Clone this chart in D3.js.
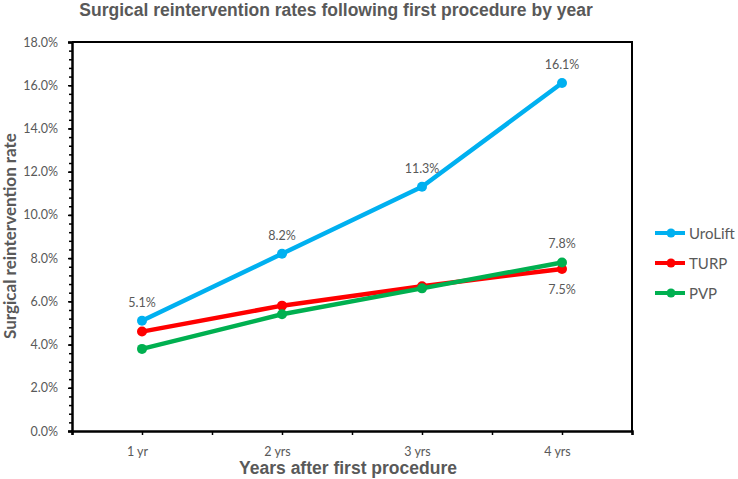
<!DOCTYPE html>
<html>
<head>
<meta charset="utf-8">
<script src="https://cdn.jsdelivr.net/npm/d3@7"></script>
<style>
  html, body { margin: 0; padding: 0; background: #fff; }
  svg { display: block; }
</style>
</head>
<body>
<svg id="chart" width="738" height="479"></svg>
<script>
// ---- data ----
const categories = [1, 2, 3, 4];
const categoryLabels = ["1 yr", "2 yrs", "3 yrs", "4 yrs"];
const seriesNames = ["UroLift", "TURP", "PVP"];
const uroliftValues = [5.1, 8.2, 11.3, 16.1];
const turpValues = [4.6, 5.8, 6.7, 7.5];
const pvpValues = [3.8, 5.4, 6.6, 7.8];
const seriesColors = ["#00B0F0", "#FF0000", "#00B050"];
const yTickValues = [0, 2, 4, 6, 8, 10, 12, 14, 16, 18];
// data labels shown in the reference: [series index, point index, position]
const dataLabels = [
  [0, 0, "above"], [0, 1, "above"], [0, 2, "above"], [0, 3, "above"],
  [2, 3, "above"], [1, 3, "below"]
];
const titleText = "Surgical reintervention rates following first procedure by year";
const xTitle = "Years after first procedure";
const yTitle = "Surgical reintervention rate";

const series = [uroliftValues, turpValues, pvpValues].map((vals, i) => ({
  name: seriesNames[i], color: seriesColors[i],
  points: vals.map((v, j) => ({ x: categories[j], y: v }))
}));

// ---- layout ----
const svg = d3.select("#chart");
const mLeft = 72, mRight = 632, mTop = 42, mBottom = 431;
const x = d3.scaleLinear().domain([0.5, 4.5]).range([mLeft, mRight]);
const y = d3.scaleLinear().domain([0, 18]).range([mBottom, mTop]);
const gray = "#595959";
const bodyFont = "Lato, 'Open Sans', sans-serif";
const narrowFont = "'Liberation Sans Narrow', 'Liberation Sans', Arial, sans-serif";

// title
svg.append("text")
  .attr("x", 336).attr("y", 16)
  .attr("text-anchor", "middle")
  .attr("font-family", narrowFont).attr("font-weight", "bold")
  .attr("font-size", 17.5).attr("fill", gray)
  .text(titleText);

// frame (top and right)
svg.append("path")
  .attr("d", `M${mLeft},${mTop}H${mRight}V${mBottom}`)
  .attr("fill", "none").attr("stroke", "#000").attr("stroke-width", 2);

// y axis
const yMinor = d3.range(0, 18.001, 0.4);
svg.append("g")
  .attr("transform", `translate(${mLeft},0)`)
  .call(d3.axisLeft(y).tickValues(yMinor).tickSize(3).tickFormat(""))
  .call(g => g.select(".domain").remove())
  .call(g => g.selectAll("line").attr("stroke", "#000").attr("stroke-width", 1.5));
const yAxis = svg.append("g")
  .attr("transform", `translate(${mLeft},0)`)
  .call(d3.axisLeft(y).tickValues(yTickValues).tickSize(4).tickPadding(10)
    .tickFormat(d => d.toFixed(1) + "%"));
yAxis.select(".domain").attr("stroke", "#000").attr("stroke-width", 2.5);
yAxis.selectAll("line").attr("stroke", "#000").attr("stroke-width", 1.5);
yAxis.selectAll("text").attr("font-family", bodyFont).attr("font-size", 12.5)
  .attr("fill", gray);

// x axis
const xTicks = d3.range(0.5, 4.5001, 0.5);
const xAxis = svg.append("g")
  .attr("transform", `translate(0,${mBottom})`)
  .call(d3.axisBottom(x).tickValues(xTicks).tickSize(4).tickPadding(12)
    .tickFormat(d => Number.isInteger(d) ? categoryLabels[categories.indexOf(d)] : ""));
xAxis.select(".domain").attr("stroke", "#000").attr("stroke-width", 2.5);
xAxis.selectAll("line").attr("stroke", "#000").attr("stroke-width", 1.5);
xAxis.selectAll("text").attr("font-family", bodyFont).attr("font-size", 12.5)
  .attr("fill", gray).attr("dx", -5);

// axis titles
svg.append("text")
  .attr("x", 348).attr("y", 474)
  .attr("text-anchor", "middle")
  .attr("font-family", narrowFont).attr("font-weight", "bold")
  .attr("font-size", 17.5).attr("fill", gray)
  .text(xTitle);
svg.append("text")
  .attr("transform", `translate(16,236) rotate(-90)`)
  .attr("text-anchor", "middle")
  .attr("font-family", bodyFont).attr("font-weight", "bold")
  .attr("font-size", 17).attr("fill", gray)
  .text(yTitle);

// lines
const line = d3.line().x(d => x(d.x)).y(d => y(d.y));
const sg = svg.selectAll(".series").data(series).join("g").attr("class", "series");
sg.append("path")
  .attr("d", d => line(d.points))
  .attr("fill", "none").attr("stroke", d => d.color)
  .attr("stroke-width", 4.5).attr("stroke-linejoin", "round");
sg.selectAll("circle").data(d => d.points.map(p => ({ ...p, color: d.color })))
  .join("circle")
  .attr("cx", d => x(d.x)).attr("cy", d => y(d.y)).attr("r", 5)
  .attr("fill", d => d.color);

// data labels
svg.selectAll(".dlabel").data(dataLabels).join("text")
  .attr("class", "dlabel")
  .attr("x", d => x(series[d[0]].points[d[1]].x))
  .attr("y", d => y(series[d[0]].points[d[1]].y) + (d[2] === "above" ? -14 : 25))
  .attr("text-anchor", "middle")
  .attr("font-family", bodyFont).attr("font-size", 12.5).attr("fill", gray)
  .text(d => series[d[0]].points[d[1]].y.toFixed(1) + "%");

// legend
const lg = svg.selectAll(".legend").data(series).join("g")
  .attr("class", "legend")
  .attr("transform", (d, i) => `translate(655,${233 + i * 30})`);
lg.append("line").attr("x1", 0).attr("x2", 30)
  .attr("stroke", d => d.color).attr("stroke-width", 4);
lg.append("circle").attr("cx", 16).attr("r", 4.5).attr("fill", d => d.color);
lg.append("text").attr("x", 34).attr("y", 5.5)
  .attr("font-family", bodyFont).attr("font-size", 15).attr("fill", gray)
  .text(d => d.name);
</script>
</body>
</html>
